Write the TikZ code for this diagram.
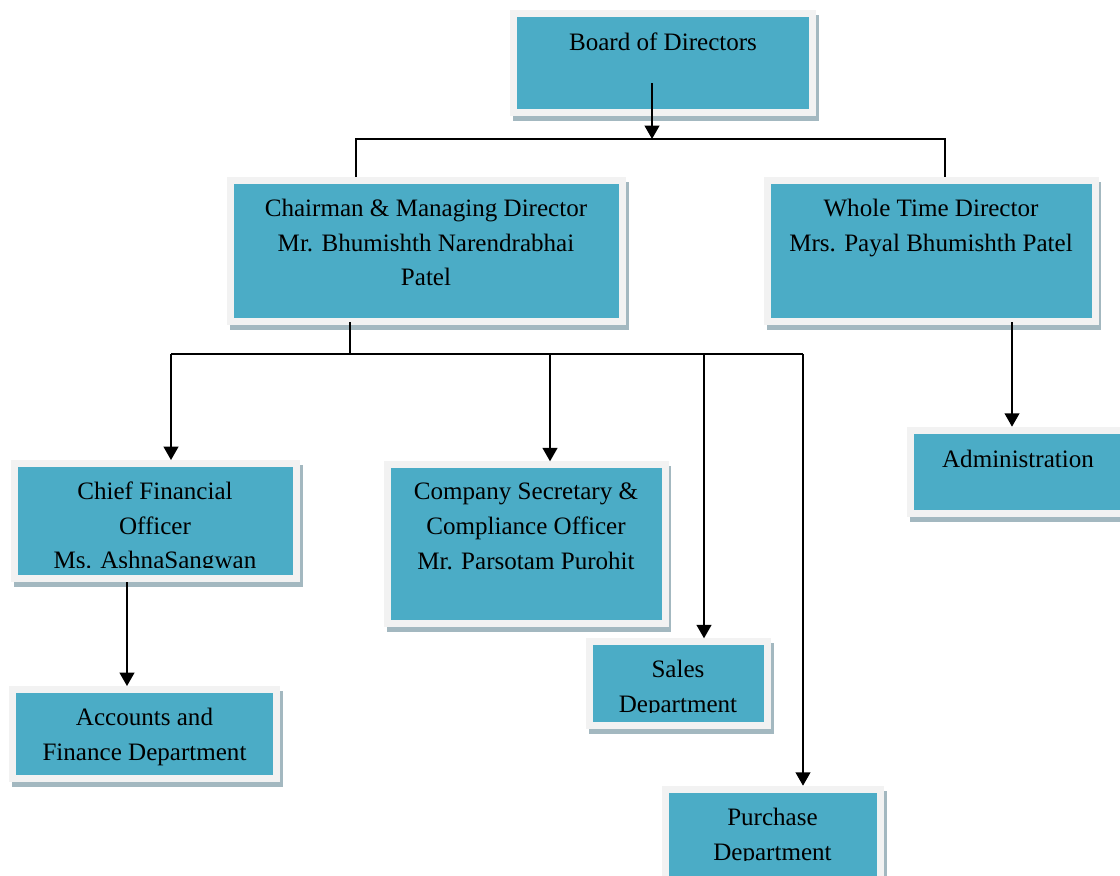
\documentclass[tikz,border=0pt]{standalone}
\usepackage{fontspec}
\setmainfont{Liberation Serif}
\usepackage{tikz}
\usetikzlibrary{arrows.meta,calc,fit}
\pgfdeclarelayer{background}
\pgfsetlayers{background,main}
\definecolor{boxfill}{HTML}{4BACC6}
\definecolor{boxframe}{HTML}{F2F2F2}
\definecolor{boxshade}{HTML}{A3B8C0}

\begin{document}
\begin{tikzpicture}[x=0.75pt,y=-0.75pt,
    box/.style={draw=boxframe,fill=boxfill,line width=5.25pt,inner sep=0pt,outer sep=2.625pt},
    txt/.style={anchor=north,inner sep=0pt,align=center,font=\fontsize{18.8pt}{25.9pt}\selectfont},
    conn/.style={line width=1.4pt,black},
    tip/.style={-{Triangle[width=11pt,length=10pt]}}]
    \useasboundingbox (0,0) rectangle (1120,875);

    \node[box,fit={(513.5,13.5) (812.5,112.5)}] (bod) {};
    \node[box,fit={(230.5,180.5) (622.5,321.5)}] (cmd) {};
    \node[box,fit={(767.5,180.5) (1095,321.5)}] (wtd) {};
    \node[box,fit={(14.5,463.5) (296.5,578.2)}] (cfo) {};
    \node[box,fit={(387.5,464.8) (665.2,623.2)}] (cs) {};
    \node[box,fit={(910.8,430.2) (1130,513.2)}] (admin) {};
    \node[box,fit={(589.5,641.8) (767.5,725.5)}] (sales) {};
    \node[box,fit={(12.5,689.5) (276.5,778.2)}] (acc) {};
    \node[box,fit={(665.2,789.2) (880.5,885)}] (purch) {};

    \begin{pgfonlayer}{background}
        \foreach \b in {bod,cmd,wtd,cfo,cs,admin,sales,acc,purch}
            \fill[boxshade] ($(\b.south west)+(2.5,5)$) rectangle ($(\b.north east)+(2.5,5)$);
    \end{pgfonlayer}

    \node[txt] (bodtxt) at (663,33) {Board of Directors};
    \node[txt] (cmdtxt) at (426,199) {Chairman \& Managing Director\\Mr. Bhumishth Narendrabhai\\Patel};
    \node[txt] (wtdtxt) at (931,199) {Whole Time Director\\Mrs. Payal Bhumishth Patel};
    \begin{scope}
        \clip (17,466) rectangle (293,567);
        \node[txt] (cfotxt) at (155,482) {Chief Financial\\Officer\\Ms. AshnaSangwan};
    \end{scope}
    \node[txt] (cstxt) at (526,483) {Company Secretary \&\\Compliance Officer\\Mr. Parsotam Purohit};
    \node[txt] (admintxt) at (1018,450) {Administration};
    \begin{scope}
        \clip (593,645) rectangle (764,712);
        \node[txt] (salestxt) at (678,660) {Sales\\Department};
    \end{scope}
    \node[txt] (acctxt) at (144.5,708) {Accounts and\\Finance Department};
    \begin{scope}
        \clip (669,793) rectangle (877,860);
        \node[txt] (purchtxt) at (772.5,808) {Purchase\\Department};
    \end{scope}

    \coordinate (bodout) at (652,83);
    \coordinate (busl) at (356,139);
    \coordinate (busr) at (945,139);
    \coordinate (cmdout) at (350,354);
    \coordinate (busa) at (171,354);
    \coordinate (busb) at (550,354);
    \coordinate (busc) at (704,354);
    \coordinate (busd) at (803,354);
    \coordinate (wtdout) at (1012,322);
    \coordinate (cfoout) at (127,582);

    \draw[conn,tip] (bodout) -- (bodout |- busl);
    \draw[conn] (cmd.north -| busl) -- (busl) -- (busr) -- (wtd.north -| busr);
    \draw[conn] ($(cmd.south -| cmdout)+(0,-3)$) -- (cmdout);
    \draw[conn] (busa) -- (busd);
    \draw[conn,tip] (busa) -- (cfo.north -| busa);
    \draw[conn,tip] (busb) -- (cs.north -| busb);
    \draw[conn,tip] (busc) -- (sales.north -| busc);
    \draw[conn,tip] (busd) -- (purch.north -| busd);
    \draw[conn,tip] (wtdout) -- (wtdout |- admin.north);
    \draw[conn,tip] (cfoout) -- (cfoout |- acc.north);
\end{tikzpicture}
\end{document}
